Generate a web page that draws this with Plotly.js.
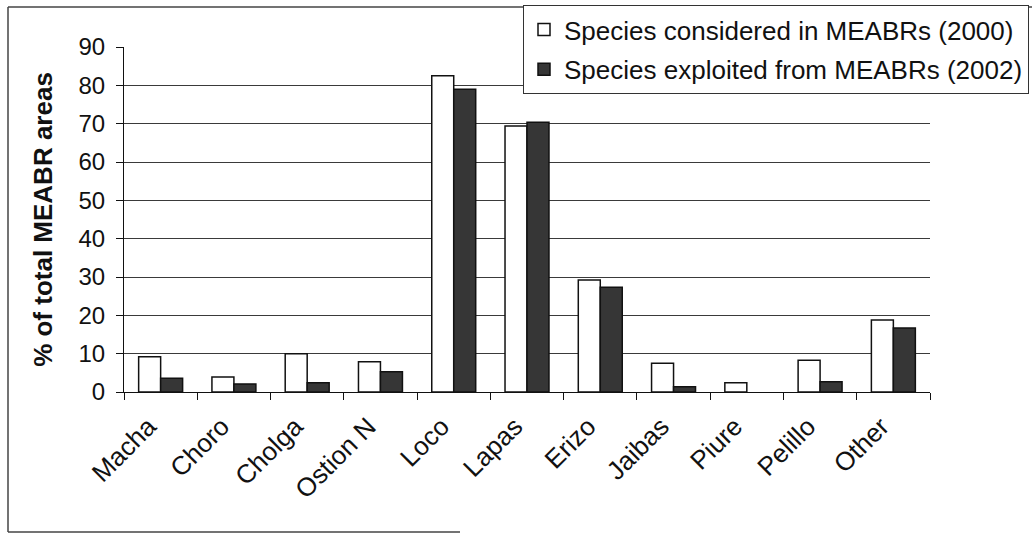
<!DOCTYPE html>
<html>
<head>
<meta charset="utf-8">
<script src="https://cdn.plot.ly/plotly-3.0.1.min.js"></script>
<style>
html,body{margin:0;padding:0;background:#fff;}
#chart{width:1034px;height:534px;}
</style>
</head>
<body>
<div id="chart"></div>
<script>
const categories = ["Macha","Choro","Cholga","Ostion N","Loco","Lapas","Erizo","Jaibas","Piure","Pelillo","Other"];
const considered2000 = [9.2, 3.9, 10.0, 7.9, 82.5, 69.4, 29.2, 7.5, 2.4, 8.3, 18.8];
const exploited2002 = [3.6, 2.1, 2.4, 5.3, 79.0, 70.4, 27.3, 1.4, null, 2.7, 16.7];
const yTicks = [0,10,20,30,40,50,60,70,80,90];
const gridTicks = [10,20,30,40,50,60,70,80];
const seriesNames = ["Species considered in MEABRs (2000)", "Species exploited from MEABRs (2002)"];

const FONT = "Liberation Sans, Arial, Helvetica, sans-serif";
const INK = "#111";

const traces = [
  {type:"bar", x:categories, y:considered2000, name:seriesNames[0], legendgroup:"a",
   marker:{color:"#ffffff", line:{color:INK, width:1.5}}},
  {type:"bar", x:categories, y:exploited2002, name:seriesNames[1], legendgroup:"b",
   marker:{color:"#363636", line:{color:INK, width:1.5}}},
  {type:"scatter", x:[], y:[], yaxis:"y2", showlegend:false, hoverinfo:"skip"}
];

// pixel helpers for frame shapes (plot area: x 124..930, y 47..392)
const L=124, R=930, T=47, B=392;
const px = v => (v - L) / (R - L);
const py = v => (B - v) / (B - T);

const layout = {
  width:1034, height:534,
  margin:{l:L, r:1034-R, t:T, b:534-B, pad:0, autoexpand:false},
  paper_bgcolor:"#fff", plot_bgcolor:"rgba(0,0,0,0)",
  font:{family:FONT, color:INK, size:22},
  bargap:0.4, bargroupgap:0, barmode:"group",
  showlegend:true,
  legend:{x:px(1029), xanchor:"right", y:py(5), yanchor:"top",
          bgcolor:"#fff", bordercolor:"#333", borderwidth:1,
          font:{family:FONT, size:26, color:INK},
          traceorder:"grouped", tracegroupgap:3},
  xaxis:{type:"category", showline:true, linecolor:INK, linewidth:1,
         ticks:"outside", tickson:"boundaries", ticklen:7, tickcolor:INK,
         tickangle:-45, tickfont:{family:FONT, size:26, color:INK},
         ticklabelstandoff:8, ticklabelshift:-12,
         showgrid:false, zeroline:false, automargin:false},
  yaxis:{range:[0,90], tickvals:yTicks, ticktext:yTicks.map(String),
         showline:true, linecolor:INK, linewidth:1,
         ticks:"outside", ticklen:7, tickcolor:INK,
         tickfont:{family:FONT, size:24, color:INK},
         ticklabelstandoff:6,
         showgrid:false, zeroline:false, automargin:false,
         title:{text:"% of total MEABR areas", standoff:18,
                font:{family:FONT, size:26, color:INK, weight:"bold"}}},
  yaxis2:{overlaying:"y", anchor:"x", range:[0,90], tickvals:gridTicks,
          showgrid:true, gridcolor:"#3a3a3a", gridwidth:1,
          showticklabels:false, ticks:"", showline:false, zeroline:false},
  shapes:[
    {type:"line", xref:"paper", yref:"paper", x0:px(8), x1:px(8), y0:py(7), y1:py(532), line:{color:"#444", width:1.5}},
    {type:"line", xref:"paper", yref:"paper", x0:px(8), x1:px(1032), y0:py(7), y1:py(7), line:{color:"#444", width:1.5}},
    {type:"line", xref:"paper", yref:"paper", x0:px(8), x1:px(460), y0:py(532), y1:py(532), line:{color:"#444", width:1.5}}
  ]
};

Plotly.newPlot("chart", traces, layout, {displayModeBar:false, staticPlot:true});
</script>
</body>
</html>
